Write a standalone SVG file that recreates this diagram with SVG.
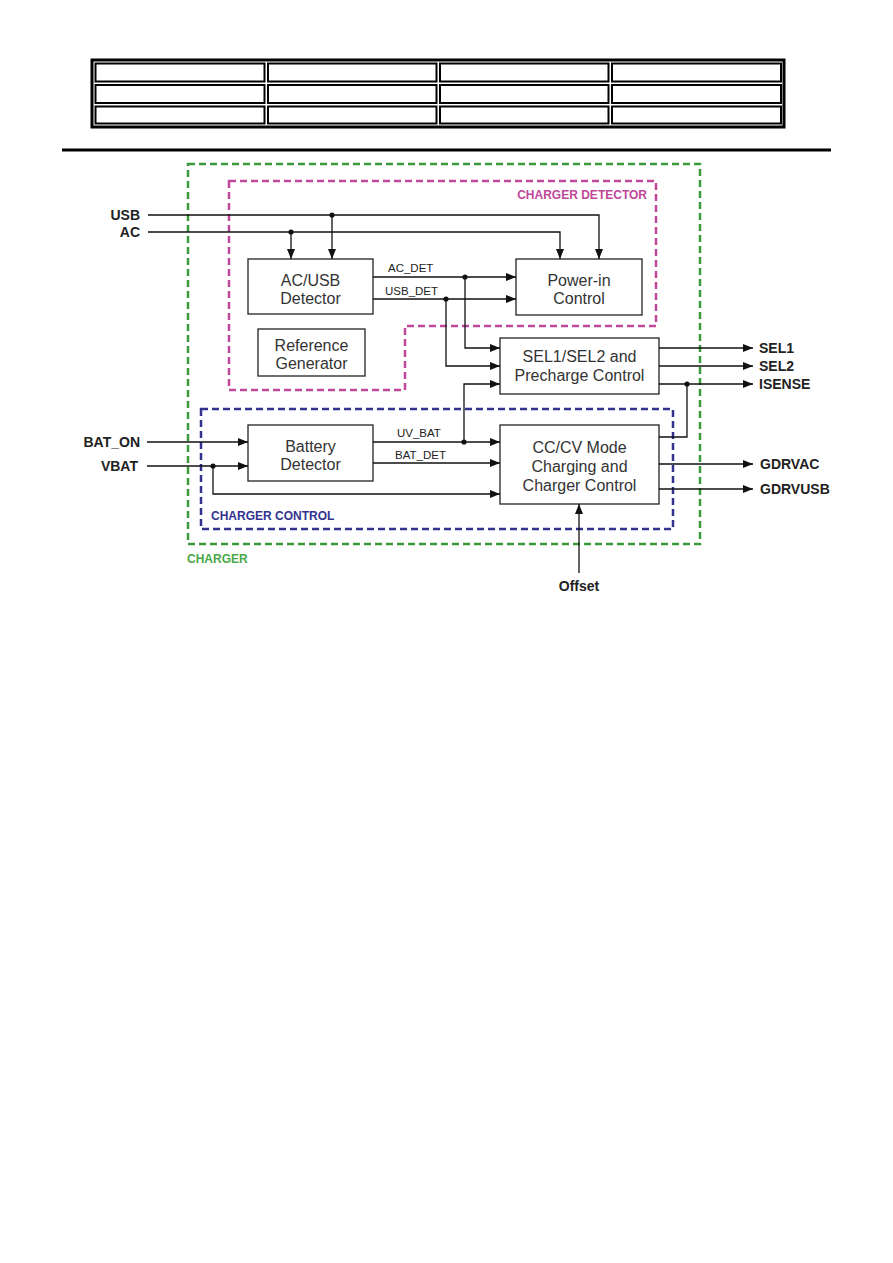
<svg xmlns="http://www.w3.org/2000/svg" width="893" height="1263" viewBox="0 0 893 1263">
<defs>
<marker id="ah" viewBox="0 0 10 8" refX="10" refY="4" markerWidth="10" markerHeight="8" markerUnits="userSpaceOnUse" orient="auto">
<path d="M0,0 L10,4 L0,8 z" fill="#111"/>
</marker>
<style>
.box{fill:#fff;stroke:#222;stroke-width:1.3}
.bt{font-family:"Liberation Sans",Arial,sans-serif;font-size:16px;fill:#333;text-anchor:middle}
.lbl{font-family:"Liberation Sans",Arial,sans-serif;font-size:14px;font-weight:bold;fill:#222}
.sig{font-family:"Liberation Sans",Arial,sans-serif;font-size:11.5px;fill:#222}
.w{fill:none;stroke:#111;stroke-width:1.3}
.a{marker-end:url(#ah)}
.dot{fill:#111}
.cell{fill:none;stroke:#000;stroke-width:2}
.grp{fill:none;stroke-width:2.5;stroke-dasharray:7 4}
.gt{font-family:"Liberation Sans",Arial,sans-serif;font-size:12px;font-weight:bold}
</style>
</defs>
<rect width="893" height="1263" fill="#fff"/>
<g id="table">
<rect x="92" y="60" width="692" height="67" fill="none" stroke="#000" stroke-width="3"/>
<rect class="cell" x="95.5" y="63.5" width="169" height="18"/>
<rect class="cell" x="268" y="63.5" width="168.5" height="18"/>
<rect class="cell" x="440" y="63.5" width="168.5" height="18"/>
<rect class="cell" x="612" y="63.5" width="169" height="18"/>
<rect class="cell" x="95.5" y="85" width="169" height="18"/>
<rect class="cell" x="268" y="85" width="168.5" height="18"/>
<rect class="cell" x="440" y="85" width="168.5" height="18"/>
<rect class="cell" x="612" y="85" width="169" height="18"/>
<rect class="cell" x="95.5" y="106.5" width="169" height="17"/>
<rect class="cell" x="268" y="106.5" width="168.5" height="17"/>
<rect class="cell" x="440" y="106.5" width="168.5" height="17"/>
<rect class="cell" x="612" y="106.5" width="169" height="17"/>
</g>
<line x1="62" y1="150" x2="831" y2="150" stroke="#000" stroke-width="3"/>
<g id="charger">
<rect class="grp" x="188" y="164" width="512" height="380" stroke="#3a9a3a"/>
<text class="gt" x="187" y="563" fill="#4aa84a">CHARGER</text>
</g>
<g id="charger-detector">
<path class="grp" d="M229,181 L656,181 L656,326 L405,326 L405,390 L229,390 Z" stroke="#c0479a"/>
<text class="gt" x="647" y="199" fill="#c0479a" text-anchor="end">CHARGER DETECTOR</text>
</g>
<g id="charger-control">
<rect class="grp" x="201" y="409" width="472" height="120" stroke="#33338f"/>
<text class="gt" x="211" y="520" fill="#33338f">CHARGER CONTROL</text>
</g>
<g id="acusb">
<rect class="box" x="248" y="259" width="125" height="55"/>
<text class="bt" x="310.5" y="286">AC/USB</text>
<text class="bt" x="310.5" y="304">Detector</text>
</g>
<g id="refgen">
<rect class="box" x="258" y="329" width="107" height="47"/>
<text class="bt" x="311.5" y="351">Reference</text>
<text class="bt" x="311.5" y="369">Generator</text>
</g>
<g id="powerin">
<rect class="box" x="516" y="259" width="126" height="56"/>
<text class="bt" x="579" y="286">Power-in</text>
<text class="bt" x="579" y="304">Control</text>
</g>
<g id="sel">
<rect class="box" x="500" y="338" width="159" height="56"/>
<text class="bt" x="579.5" y="362">SEL1/SEL2 and</text>
<text class="bt" x="579.5" y="381">Precharge Control</text>
</g>
<g id="battery">
<rect class="box" x="248" y="425" width="125" height="56"/>
<text class="bt" x="310.5" y="452">Battery</text>
<text class="bt" x="310.5" y="470">Detector</text>
</g>
<g id="cccv">
<rect class="box" x="500" y="425" width="159" height="79"/>
<text class="bt" x="579.5" y="453">CC/CV Mode</text>
<text class="bt" x="579.5" y="472">Charging and</text>
<text class="bt" x="579.5" y="491">Charger Control</text>
</g>
<g id="connectors">
<path class="w" d="M148,215 H599 V259" marker-end="url(#ah)"/>
<path class="w a" d="M332,215 V259"/>
<path class="w a" d="M148,232 H560 V259"/>
<path class="w a" d="M291,232 V259"/>
<path class="w a" d="M373,277 H516"/>
<path class="w a" d="M373,299 H516"/>
<path class="w a" d="M465,277 V348 H500"/>
<path class="w a" d="M446,299 V366 H500"/>
<path class="w a" d="M464,442 V384 H500"/>
<path class="w a" d="M659,348 H753"/>
<path class="w a" d="M659,366 H753"/>
<path class="w a" d="M659,384 H753"/>
<path class="w" d="M687,384 V437 H659"/>
<path class="w a" d="M147,442 H248"/>
<path class="w a" d="M147,466 H248"/>
<path class="w a" d="M213,466 V494 H500"/>
<path class="w a" d="M373,442 H500"/>
<path class="w a" d="M373,463 H500"/>
<path class="w a" d="M659,464 H753"/>
<path class="w a" d="M659,489 H753"/>
<path class="w a" d="M579,573 V504"/>
<circle class="dot" cx="332" cy="215" r="2.6"/>
<circle class="dot" cx="291" cy="232" r="2.6"/>
<circle class="dot" cx="465" cy="277" r="2.6"/>
<circle class="dot" cx="446" cy="299" r="2.6"/>
<circle class="dot" cx="464" cy="442" r="2.6"/>
<circle class="dot" cx="687" cy="384" r="2.6"/>
<circle class="dot" cx="213" cy="466" r="2.6"/>
<text class="sig" x="388" y="272">AC_DET</text>
<text class="sig" x="385" y="295">USB_DET</text>
<text class="sig" x="397" y="437">UV_BAT</text>
<text class="sig" x="395" y="459">BAT_DET</text>
</g>
<g id="labels">
<text class="lbl" x="140" y="220" text-anchor="end">USB</text>
<text class="lbl" x="140" y="237" text-anchor="end">AC</text>
<text class="lbl" x="140" y="447" text-anchor="end">BAT_ON</text>
<text class="lbl" x="138" y="471" text-anchor="end">VBAT</text>
<text class="lbl" x="759" y="353">SEL1</text>
<text class="lbl" x="759" y="371">SEL2</text>
<text class="lbl" x="759" y="389">ISENSE</text>
<text class="lbl" x="760" y="469">GDRVAC</text>
<text class="lbl" x="760" y="494">GDRVUSB</text>
<text class="lbl" x="579" y="591" text-anchor="middle">Offset</text>
</g>
</svg>
